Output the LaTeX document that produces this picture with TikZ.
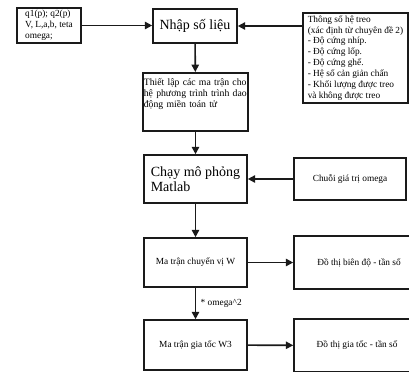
\documentclass[tikz,border=0pt]{standalone}
\usepackage{fontspec}
\setmainfont{Liberation Serif}
\usetikzlibrary{arrows.meta}
\definecolor{FlowInk}{HTML}{1A1A1A}

\begin{document}
\begin{tikzpicture}[
	x=0.75pt, y=-0.75pt,
	font=\fontsize{7}{8.2}\selectfont,
	box/.style={draw=FlowInk, line width=1.2pt, fill=white, inner sep=1.5pt},
	bigbox/.style={box, font=\fontsize{10.5}{11.5}\selectfont},
	link/.style={-{Triangle[length=5.5pt, width=5.5pt]}, draw=FlowInk, line width=1.2pt}
]
\useasboundingbox (0,0) rectangle (409,371);
\clip (0,0) rectangle (409,371);

\node[box, align=left, minimum width=48pt, minimum height=26.25pt] (params) at (49,25.5) {q1(p); q2(p)\\V, L,a,b, teta\\omega;};
\node[bigbox, minimum width=63pt, minimum height=25.5pt] (input) at (195,26) {Nhập số liệu};
\node[box, align=left, minimum width=78.75pt, minimum height=67.5pt] (suspension) at (355.5,58) {Thông số hệ treo\\(xác định từ chuyên đề 2)\\- Độ cứng nhíp.\\- Độ cứng lốp.\\- Độ cứng ghế.\\- Hệ số cản giản chấn\\- Khối lượng được treo\\và không được treo};

\node[box, anchor=north, align=left, font=\fontsize{7.3}{8.2}\selectfont, text width=77.5pt, inner xsep=0.6pt, inner ysep=0pt, text height=9.4pt, text depth=34.1pt] (matrices) at (195.5,72) {Thiết lập các ma trận cho\\hệ phương trình trình dao\\động miền toán tử};

\node[bigbox, align=left, minimum width=77.25pt, minimum height=36pt] (simulate) at (195.5,179) {Chạy mô phỏng\\Matlab};
\node[box, minimum width=84pt, minimum height=31.5pt] (omegas) at (350,179) {Chuỗi giá trị omega};

\node[box, minimum width=77.25pt, minimum height=36.75pt] (dispW) at (195.5,262.5) {Ma trận chuyển vị W};
\node[box, minimum width=97.5pt, minimum height=39.75pt] (ampplot) at (359,262.5) {Đồ thị biên độ - tần số};
\node[box, minimum width=77.25pt, minimum height=37.5pt] (accW) at (195.5,345) {Ma trận gia tốc W3};
\node[box, minimum width=94.5pt, minimum height=39.75pt] (accplot) at (357,345.5) {Đồ thị gia tốc - tần số};

\draw[link] (params) -- (params -| input.west);
\draw[link] (suspension.west |- input) -- (input);
\draw[link] (input) -- (matrices);
\draw[link] (matrices) -- (simulate);
\draw[link] (omegas) -- (simulate);
\draw[link] (simulate) -- (dispW);
\draw[link] (dispW) -- (ampplot);
\draw[link] (dispW) -- node[right] {* omega\textasciicircum 2} (accW);
\draw[link] (accW) -- (accplot);
\end{tikzpicture}
\end{document}
